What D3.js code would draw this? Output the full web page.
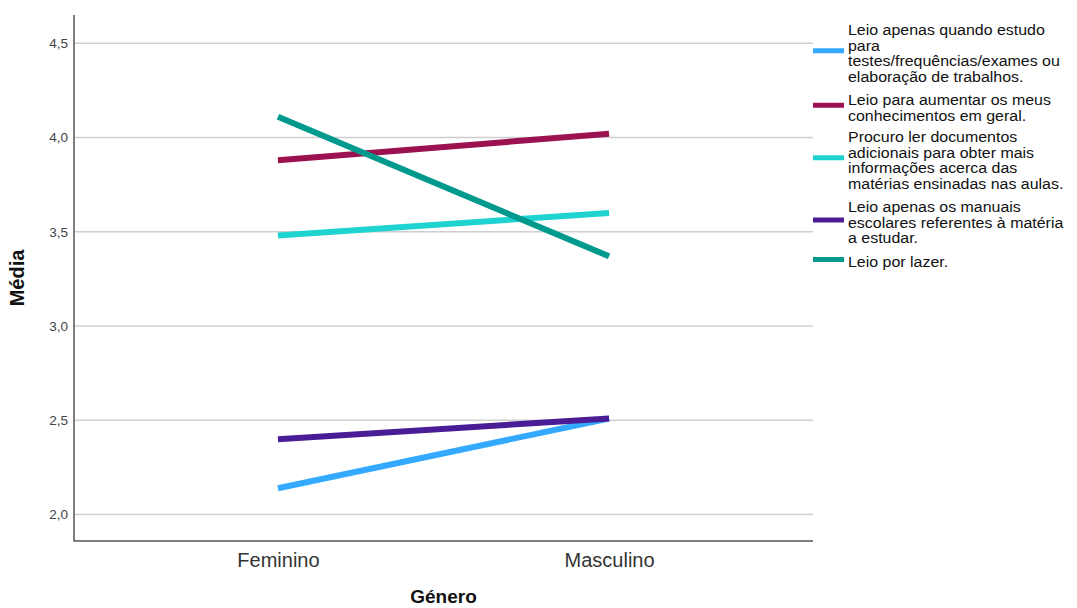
<!DOCTYPE html>
<html><head><meta charset="utf-8">
<script src="https://cdn.jsdelivr.net/npm/d3@7"></script>
<style>body{margin:0;background:#fff;}svg{display:block;font-family:"Liberation Sans",Arial,sans-serif;}</style>
</head><body><svg id="c" width="1077" height="608"></svg>
<script>
const categories = ["Feminino", "Masculino"];
const seriesNames = [
  "Leio apenas quando estudo para testes/frequências/exames ou elaboração de trabalhos.",
  "Leio para aumentar os meus conhecimentos em geral.",
  "Procuro ler documentos adicionais para obter mais informações acerca das matérias ensinadas nas aulas.",
  "Leio apenas os manuais escolares referentes à matéria a estudar.",
  "Leio por lazer."
];
const legendLines = [
  ["Leio apenas quando estudo", "para", "testes/frequências/exames ou", "elaboração de trabalhos."],
  ["Leio para aumentar os meus", "conhecimentos em geral."],
  ["Procuro ler documentos", "adicionais para obter mais", "informações acerca das", "matérias ensinadas nas aulas."],
  ["Leio apenas os manuais", "escolares referentes à matéria", "a estudar."],
  ["Leio por lazer."]
];
const apenasEstudo = [2.14, 2.51];
const aumentar = [3.88, 4.02];
const documentos = [3.48, 3.60];
const manuais = [2.40, 2.51];
const lazer = [4.11, 3.37];
const seriesValues = [apenasEstudo, aumentar, documentos, manuais, lazer];
const colors = ["#33aaff", "#9c1150", "#1fd3d0", "#4a1d97", "#00998d"];
const yTicks = [2.0, 2.5, 3.0, 3.5, 4.0, 4.5];

const svg = d3.select("#c");
const L = 74, R = 813, T = 15, B = 541;
const x = d3.scalePoint().domain(categories).range([L, R]).padding(0.616);
const y = d3.scaleLinear().domain([1.86, 4.65]).range([B, T]);

// gridlines
svg.append("g").selectAll("line").data(yTicks).join("line")
  .attr("x1", L).attr("x2", R)
  .attr("y1", d => y(d)).attr("y2", d => y(d))
  .attr("stroke", "#cfcfcf").attr("stroke-width", 1.5);

// y axis
const yAxis = svg.append("g").attr("transform", `translate(${L},0)`)
  .call(d3.axisLeft(y).tickValues(yTicks).tickSize(0).tickPadding(6)
    .tickFormat(d => d3.format(".1f")(d).replace(".", ",")));
yAxis.select(".domain").remove();
yAxis.selectAll("text").attr("font-size", 13.5).attr("fill", "#444")
  .attr("font-family", "Liberation Sans, Arial, sans-serif");

// x axis labels
const xAxis = svg.append("g").attr("transform", `translate(0,${B})`)
  .call(d3.axisBottom(x).tickSize(0).tickPadding(12));
xAxis.select(".domain").remove();
xAxis.selectAll("text").attr("font-size", 20).attr("fill", "#333")
  .attr("font-family", "Liberation Sans, Arial, sans-serif");

// axis lines
svg.append("line").attr("x1", L).attr("x2", L).attr("y1", T).attr("y2", B + 0.5)
  .attr("stroke", "#555").attr("stroke-width", 1.5);
svg.append("line").attr("x1", L).attr("x2", R).attr("y1", B).attr("y2", B)
  .attr("stroke", "#555").attr("stroke-width", 1.5);

// titles
svg.append("text").attr("transform", `translate(24,${(T + B) / 2}) rotate(-90)`)
  .attr("text-anchor", "middle").attr("font-size", 20).attr("font-weight", "bold")
  .attr("fill", "#111").text("Média");
svg.append("text").attr("x", (L + R) / 2).attr("y", 603)
  .attr("text-anchor", "middle").attr("font-size", 19).attr("font-weight", "bold")
  .attr("fill", "#111").text("Género");

// lines
const line = d3.line().x((d, i) => x(categories[i])).y(d => y(d));
svg.append("g").selectAll("path").data(seriesValues).join("path")
  .attr("d", d => line(d)).attr("fill", "none")
  .attr("stroke", (d, i) => colors[i]).attr("stroke-width", 6);

// legend
const lineH = 15.5;
const starts = [30, 100, 137, 207, 262];
const lg = svg.append("g");
legendLines.forEach((lines, i) => {
  const y0 = starts[i];
  const center = y0 + (lines.length - 1) * lineH / 2;
  lg.append("line").attr("x1", 813).attr("x2", 844)
    .attr("y1", center - 2.5).attr("y2", center - 2.5)
    .attr("stroke", colors[i]).attr("stroke-width", 5);
  const tg = lg.append("g").attr("transform", "translate(848,0) scale(1.1,1)");
  lines.forEach((t, j) => {
    tg.append("text").attr("x", 0).attr("y", y0 + j * lineH)
      .attr("dy", "0.35em").attr("font-size", 14.5).attr("fill", "#111").text(t);
  });
});
</script></body></html>
